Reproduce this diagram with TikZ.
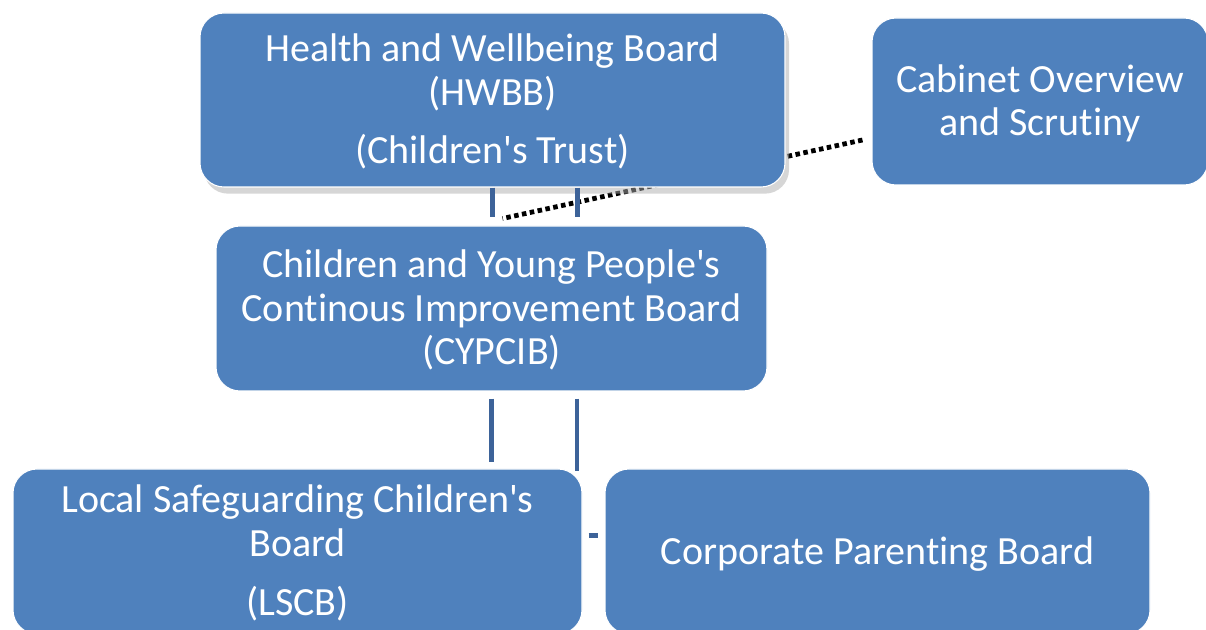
\documentclass[tikz,border=0pt]{standalone}
\usepackage{fontspec}
\setmainfont{Carlito}[Ligatures={NoCommon,TeXOff}]
\usetikzlibrary{positioning,shadows,backgrounds,calc}
\definecolor{boxblue}{HTML}{4F81BD}
\definecolor{linkblue}{HTML}{3D6399}
\newlength\pix
\setlength\pix{0.75pt}

\begin{document}
\begin{tikzpicture}[x=\pix, y=-\pix,
  mybox/.style={draw=white, line width=0.8pt, fill=boxblue, rounded corners=18pt,
    text=white, align=center, inner sep=0pt, text depth=2pt,
    font=\fontsize{30}{32.6}\selectfont},
  mylink/.style={draw=linkblue, line width=3.6pt},
  mydots/.style={draw=black, line width=3.6pt, dash pattern=on 3.4pt off 2.6pt}
  ]
  \useasboundingbox (0,0) rectangle (1206,630);
  \clip (0,0) rectangle (1206,630);

  \node[mybox, minimum width=585\pix, minimum height=174\pix,
    drop shadow={shadow xshift=3pt, shadow yshift=-5pt, fill=black!32}]
    (hwbb) at (492.5,100) {Health and Wellbeing Board\\(HWBB)\\[11pt](Children's Trust)};

  \node[mybox, minimum width=336\pix, minimum height=167\pix]
    (cabinet) at (1040,101.5) {Cabinet Overview\\and Scrutiny};

  \node[mybox, minimum width=551\pix, minimum height=165\pix]
    (cypcib) at (491.5,308.5) {Children and Young People's\\Continous Improvement Board\\(CYPCIB)};

  \node[mybox, minimum width=569\pix, minimum height=165\pix]
    (lscb) at (297.5,551.5) {Local Safeguarding Children's\\Board\\[12pt](LSCB)};

  \node[mybox, minimum width=545\pix, minimum height=165\pix]
    (corp) at (877.5,551.5) {Corporate Parenting Board};

  % dotted reporting line runs behind the boxes
  \begin{scope}[on background layer]
    \coordinate (dotend) at ($(hwbb.south)+(10,31)$);
    \draw[mydots] ($(cabinet.west)+(-9,38.5)$) -- (dotend);
  \end{scope}

  % HWBB to CYPCIB
  \draw[mylink, shorten >=8\pix] (hwbb.south) -- (hwbb.south |- cypcib.north);
  \draw[mylink, shorten >=8\pix] ($(hwbb.south)+(85,0)$) -- ($(hwbb.south |- cypcib.north)+(85,0)$);

  % CYPCIB to the two lower boards
  \draw[mylink, shorten <=7\pix, shorten >=6\pix] (cypcib.south) -- (cypcib.south |- lscb.north);
  \draw[mylink, shorten <=7\pix] ($(cypcib.south)+(85.5,0)$) -- ($(cypcib.south |- lscb.north)+(85.5,3)$);
  \draw[mylink] ($(lscb.east)+(6,-16)$) -- ($(corp.west)+(-6,-16)$);

\end{tikzpicture}
\end{document}
